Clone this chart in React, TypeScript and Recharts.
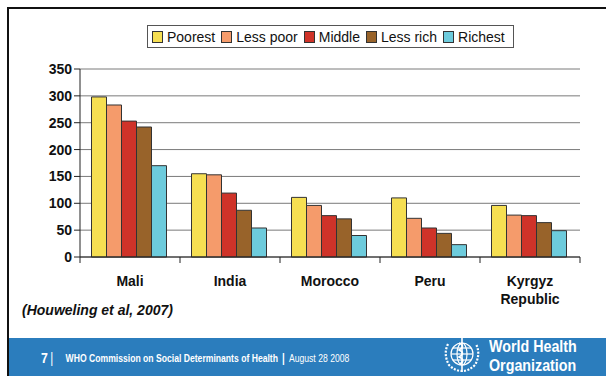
import React from 'react';
import { BarChart, Bar, XAxis, YAxis, CartesianGrid } from 'recharts';

// ── Data ─────────────────────────────────────────────────────────────────────
const countries = ['Mali', 'India', 'Morocco', 'Peru', 'Kyrgyz Republic'];
const poorest = [298, 155, 111, 110, 96];
const lessPoor = [283, 153, 96, 72, 78];
const middle = [253, 119, 77, 54, 77];
const lessRich = [242, 87, 71, 44, 64];
const richest = [170, 54, 40, 23, 49];
const yTicks = [0, 50, 100, 150, 200, 250, 300, 350];

const SERIES = [
  { key: 'poorest', name: 'Poorest', color: '#f6df52', values: poorest },
  { key: 'lessPoor', name: 'Less poor', color: '#f59b6b', values: lessPoor },
  { key: 'middle', name: 'Middle', color: '#cf3329', values: middle },
  { key: 'lessRich', name: 'Less rich', color: '#98632a', values: lessRich },
  { key: 'richest', name: 'Richest', color: '#6dcbdc', values: richest },
];

const data = countries.map((country, i) => {
  const row: Record<string, string | number> = { country };
  SERIES.forEach(s => { row[s.key] = s.values[i]; });
  return row;
});

// ── Layout ───────────────────────────────────────────────────────────────────
const W = 606;
const H = 376;
const PLOT_LEFT = 80;
const PLOT_RIGHT = 580;
const BAND = (PLOT_RIGHT - PLOT_LEFT) / countries.length;
const FONT = '"Liberation Sans", Arial, sans-serif';

const CountryTick = (props: any) => {
  const { x, y, payload, index } = props;
  const words = String(payload.value) === 'Kyrgyz Republic' ? ['Kyrgyz', 'Republic'] : [String(payload.value)];
  return (
    <g>
      <line x1={x - BAND / 2} x2={x - BAND / 2} y1={y - 8} y2={y - 2} stroke="#222" />
      {index === countries.length - 1 && (
        <line x1={x + BAND / 2} x2={x + BAND / 2} y1={y - 8} y2={y - 2} stroke="#222" />
      )}
      {words.map((w, i) => (
        <text
          key={i}
          x={x}
          y={y + 21 + i * 18}
          textAnchor="middle"
          fontFamily={FONT}
          fontWeight="bold"
          fontSize={14}
          fill="#111"
        >
          {w}
        </text>
      ))}
    </g>
  );
};

const LegendBox = () => (
  <div
    style={{
      position: 'absolute',
      left: 147,
      top: 25,
      display: 'flex',
      alignItems: 'center',
      border: '1px solid #555',
      background: '#fff',
      height: 21,
      padding: '0 2px 0 4px',
      fontFamily: FONT,
      fontSize: 14,
      color: '#111',
      whiteSpace: 'nowrap',
    }}
  >
    {SERIES.map(s => (
      <span key={s.key} style={{ display: 'flex', alignItems: 'center', marginRight: 6 }}>
        <span
          style={{
            display: 'inline-block',
            width: 9,
            height: 10,
            background: s.color,
            border: '1px solid #333',
            marginRight: 4,
          }}
        />
        {s.name}
      </span>
    ))}
  </div>
);

const WhoLogo = () => (
  <svg width={44} height={40} viewBox="0 0 44 40" style={{ position: 'absolute', left: 440, top: 334 }}>
    <g fill="none" stroke="#fff" strokeWidth={1.2}>
      <circle cx={22} cy={20} r={11} />
      <ellipse cx={22} cy={20} rx={5} ry={11} />
      <line x1={11} y1={20} x2={33} y2={20} />
      <line x1={13} y1={14} x2={31} y2={14} />
      <line x1={13} y1={26} x2={31} y2={26} />
      <path d="M8 10 Q3 20 9 31 Q15 37 22 37 Q29 37 35 31 Q41 20 36 10" strokeWidth={2.2} strokeDasharray="2 1.5" />
      <line x1={22} y1={2} x2={22} y2={38} strokeWidth={1.6} />
      <path d="M19 9 Q26 12 19 16 Q26 19 19 23 Q26 26 20 30" strokeWidth={1.6} />
    </g>
  </svg>
);

export default function App() {
  return (
    <div style={{ position: 'absolute', left: 0, top: 0, width: W, height: H, background: '#fff', overflow: 'hidden' }}>
      {/* slide frame */}
      <div style={{ position: 'absolute', left: 7, top: 7, width: W, height: 2, background: '#111' }} />
      <div style={{ position: 'absolute', left: 7, top: 7, width: 2, height: H, background: '#111' }} />

      <div style={{ position: 'absolute', left: 0, top: 0 }}>
        <BarChart
          width={W}
          height={H}
          data={data}
          margin={{ top: 69, right: W - PLOT_RIGHT, bottom: 69, left: 30 }}
          barCategoryGap="11.5%"
          barGap={0}
        >
          <CartesianGrid vertical={false} stroke="#7a7a7a" />
          <XAxis
            dataKey="country"
            height={50}
            axisLine={{ stroke: '#222' }}
            tickLine={false}
            interval={0}
            tick={<CountryTick />}
          />
          <YAxis
            domain={[0, 350]}
            ticks={yTicks}
            width={50}
            axisLine={{ stroke: '#222' }}
            tickLine={{ stroke: '#222' }}
            tickSize={6}
            tick={{ fontFamily: FONT, fontWeight: 'bold', fontSize: 14, fill: '#111' }}
          />
          <YAxis
            yAxisId="right"
            orientation="right"
            domain={[0, 350]}
            width={0}
            tick={false}
            tickLine={false}
            axisLine={{ stroke: '#7a7a7a' }}
          />
          {SERIES.map(s => (
            <Bar
              key={s.key}
              dataKey={s.key}
              name={s.name}
              fill={s.color}
              stroke="#333"
              strokeWidth={1}
              isAnimationActive={false}
            />
          ))}
        </BarChart>
      </div>

      <LegendBox />

      <div
        style={{
          position: 'absolute',
          left: 22,
          top: 302,
          fontFamily: FONT,
          fontWeight: 'bold',
          fontStyle: 'italic',
          fontSize: 14,
          color: '#111',
        }}
      >
        (Houweling et al, 2007)
      </div>

      {/* footer band */}
      <div style={{ position: 'absolute', left: 9, top: 338, width: W, height: H - 338, background: '#2b7dbd' }} />
      <div
        style={{
          position: 'absolute',
          left: 41,
          top: 349,
          color: '#fff',
          fontFamily: FONT,
          whiteSpace: 'nowrap',
          display: 'flex',
          alignItems: 'center',
          transform: 'scaleX(0.82)',
          transformOrigin: 'left center',
        }}
      >
        <span style={{ fontSize: 15, fontWeight: 'bold', marginRight: 3 }}>7</span>
        <span style={{ fontSize: 14, marginRight: 15 }}>|</span>
        <span style={{ fontSize: 10.5, fontWeight: 'bold' }}>WHO Commission on Social Determinants of Health</span>
        <span style={{ fontSize: 12, margin: '0 5px', fontWeight: 'bold' }}>|</span>
        <span style={{ fontSize: 10.5 }}>August 28 2008</span>
      </div>
      <WhoLogo />
      <div
        style={{
          position: 'absolute',
          left: 489,
          top: 337,
          color: '#fff',
          fontFamily: FONT,
          fontWeight: 'bold',
          fontSize: 17,
          lineHeight: '19px',
          whiteSpace: 'nowrap',
          transform: 'scaleX(0.84)',
          transformOrigin: 'left top',
        }}
      >
        <div>World Health</div>
        <div>Organization</div>
      </div>
    </div>
  );
}
